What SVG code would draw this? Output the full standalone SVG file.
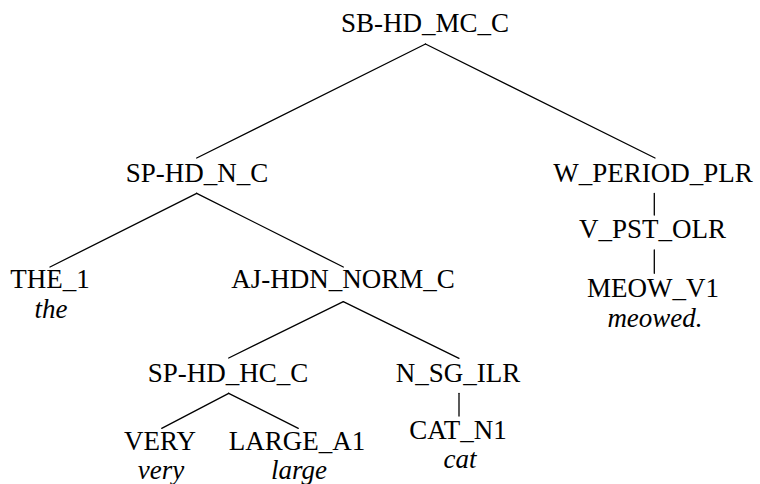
<svg xmlns="http://www.w3.org/2000/svg" width="760" height="484" viewBox="0 0 760 484">
  <style>
    .lbl { font-size: 27px; fill: #000; text-anchor: middle; }
    .w { font-style: italic; }
    .edge { stroke: #000; stroke-width: 1.3; fill: none; stroke-linecap: round; }
  </style>
  <rect width="760" height="484" fill="#fff"/>

  <!-- tree branches -->
  <g id="connectors">
    <line class="edge" x1="425.5" y1="44" x2="196.7" y2="158"/>
    <line class="edge" x1="425.5" y1="44" x2="655" y2="158"/>
    <line class="edge" x1="196.7" y1="193.3" x2="50" y2="267"/>
    <line class="edge" x1="196.7" y1="193.3" x2="343.3" y2="267"/>
    <line class="edge" x1="343.3" y1="301.7" x2="228.7" y2="358"/>
    <line class="edge" x1="343.3" y1="301.7" x2="459" y2="358.3"/>
    <line class="edge" x1="228.7" y1="393.3" x2="161.7" y2="428.3"/>
    <line class="edge" x1="228.7" y1="393.3" x2="298.3" y2="428.3"/>
    <line class="edge" x1="459" y1="393.3" x2="459" y2="416"/>
    <line class="edge" x1="654.3" y1="193.5" x2="654.3" y2="215"/>
    <line class="edge" x1="654.3" y1="250" x2="654.3" y2="273.3"/>
  </g>

  <!-- nodes -->
  <g id="n-sb-hd-mc-c"><text class="lbl" style="font-family:'Liberation Serif','DejaVu Serif','Noto Serif',serif" x="425" y="32">SB-HD_MC_C</text></g>
  <g id="n-sp-hd-n-c"><text class="lbl" style="font-family:'Liberation Serif','DejaVu Serif','Noto Serif',serif" x="197" y="182">SP-HD_N_C</text></g>
  <g id="n-w-period-plr"><text class="lbl" style="font-family:'Liberation Serif','DejaVu Serif','Noto Serif',serif" x="653" y="181.7">W_PERIOD_PLR</text></g>
  <g id="n-the-1">
    <text class="lbl" style="font-family:'Liberation Serif','DejaVu Serif','Noto Serif',serif" x="50" y="288.3">THE_1</text>
    <text class="lbl w" style="font-family:'Liberation Serif','DejaVu Serif','Noto Serif',serif" x="51" y="318.3">the</text>
  </g>
  <g id="n-aj-hdn-norm-c"><text class="lbl" style="font-family:'Liberation Serif','DejaVu Serif','Noto Serif',serif" x="343" y="288.3">AJ-HDN_NORM_C</text></g>
  <g id="n-v-pst-olr"><text class="lbl" style="font-family:'Liberation Serif','DejaVu Serif','Noto Serif',serif" x="652.5" y="238.3">V_PST_OLR</text></g>
  <g id="n-meow-v1">
    <text class="lbl" style="font-family:'Liberation Serif','DejaVu Serif','Noto Serif',serif" x="653" y="296.7">MEOW_V1</text>
    <text class="lbl w" style="font-family:'Liberation Serif','DejaVu Serif','Noto Serif',serif" x="655" y="326.7">meowed.</text>
  </g>
  <g id="n-sp-hd-hc-c"><text class="lbl" style="font-family:'Liberation Serif','DejaVu Serif','Noto Serif',serif" x="228" y="381.7">SP-HD_HC_C</text></g>
  <g id="n-n-sg-ilr"><text class="lbl" style="font-family:'Liberation Serif','DejaVu Serif','Noto Serif',serif" x="458" y="381.7">N_SG_ILR</text></g>
  <g id="n-very">
    <text class="lbl" style="font-family:'Liberation Serif','DejaVu Serif','Noto Serif',serif" x="160" y="450">VERY</text>
    <text class="lbl w" style="font-family:'Liberation Serif','DejaVu Serif','Noto Serif',serif" x="161" y="479">very</text>
  </g>
  <g id="n-large-a1">
    <text class="lbl" style="font-family:'Liberation Serif','DejaVu Serif','Noto Serif',serif" x="297" y="450">LARGE_A1</text>
    <text class="lbl w" style="font-family:'Liberation Serif','DejaVu Serif','Noto Serif',serif" x="299" y="479">large</text>
  </g>
  <g id="n-cat-n1">
    <text class="lbl" style="font-family:'Liberation Serif','DejaVu Serif','Noto Serif',serif" x="458" y="439.3">CAT_N1</text>
    <text class="lbl w" style="font-family:'Liberation Serif','DejaVu Serif','Noto Serif',serif" x="460" y="468.3">cat</text>
  </g>
</svg>
